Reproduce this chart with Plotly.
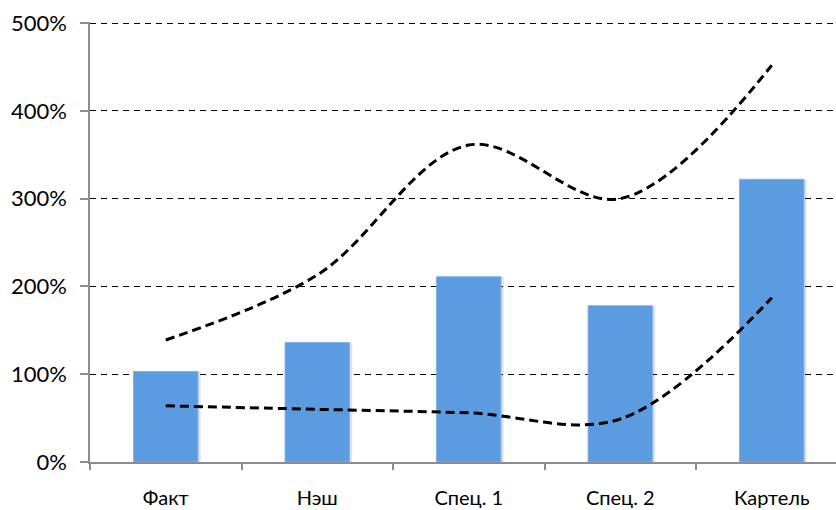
import plotly.graph_objects as go

categories = ["Факт", "Нэш", "Спец. 1", "Спец. 2", "Картель"]
bar_values = [103, 136, 211, 178, 322]
upper_line = [139, 213, 361, 300, 452]
lower_line = [64, 60, 56, 49, 187]
y_ticks = [0, 100, 200, 300, 400, 500]
y_tick_labels = [f"{v}%" for v in y_ticks]

bar_color = "#5B9BE0"
axis_gray = "#8C8C8C"
font_family = "Lato, 'Open Sans', sans-serif"

fig = go.Figure()

# soft drop shadow behind the bars
fig.add_trace(go.Bar(
    x=categories, y=bar_values, width=0.425, offset=-0.2125 + 0.018,
    marker=dict(color="rgba(0,0,0,0.12)", line=dict(width=0)),
    hoverinfo="skip", showlegend=False,
))
fig.add_trace(go.Bar(
    x=categories, y=bar_values, width=0.425, offset=-0.2125,
    marker=dict(color=bar_color, line=dict(color="#7DB2EA", width=1)),
    showlegend=False,
))
for series in (upper_line, lower_line):
    fig.add_trace(go.Scatter(
        x=categories, y=series, mode="lines",
        line=dict(color="black", width=3, dash="9px,5px", shape="spline", smoothing=1),
        showlegend=False,
    ))

fig.update_layout(
    width=836, height=510,
    margin=dict(l=90, r=0, t=22, b=48),
    paper_bgcolor="white", plot_bgcolor="white",
    barmode="overlay",
    font=dict(family=font_family, size=20, color="black"),
)
fig.update_xaxes(
    type="category", range=[-0.5, 4.424],
    showline=True, linecolor=axis_gray, linewidth=1.5,
    ticks="outside", tickson="boundaries", ticklen=6, tickcolor=axis_gray, tickwidth=1.5,
    showgrid=False, ticklabelstandoff=17,
    tickfont=dict(family=font_family, size=20, color="black"),
)
fig.update_yaxes(
    range=[0, 501.2], tickvals=y_ticks, ticktext=y_tick_labels,
    showline=True, linecolor=axis_gray, linewidth=1.5,
    ticks="outside", ticklen=8, tickcolor=axis_gray, tickwidth=1.5,
    showgrid=True, gridcolor="black", gridwidth=1.4, griddash="6px,5px",
    zeroline=False, ticklabelstandoff=9,
    tickfont=dict(family=font_family, size=22, color="black"),
)

fig.write_html("out.html")
